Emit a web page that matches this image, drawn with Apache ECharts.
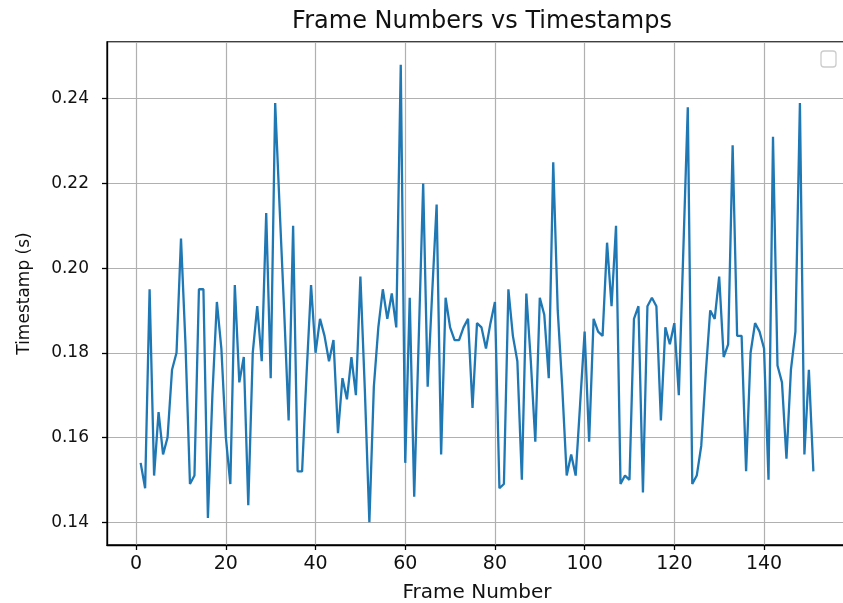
<!DOCTYPE html>
<html>
<head>
<meta charset="utf-8">
<title>Frame Numbers vs Timestamps</title>
<script src="https://cdn.jsdelivr.net/npm/echarts@6/dist/echarts.min.js"></script>
<style>
  html, body { margin: 0; padding: 0; background: #fff; }
  #chart { width: 843px; height: 603px; }
</style>
</head>
<body>
<div id="chart"></div>
<script>
// frame index 1..151 and measured timestamps (s)
const frameNumbers = [];
for (let i = 1; i <= 151; i++) frameNumbers.push(i);

const timestamps = [
  0.154, 0.148, 0.195, 0.151, 0.166, 0.156, 0.160, 0.176, 0.180, 0.207,
  0.182, 0.149, 0.151, 0.195, 0.195, 0.141, 0.170, 0.192, 0.181, 0.160,
  0.149, 0.196, 0.173, 0.179, 0.144, 0.180, 0.191, 0.178, 0.213, 0.174,
  0.239, 0.214, 0.190, 0.164, 0.210, 0.152, 0.152, 0.175, 0.196, 0.180,
  0.188, 0.184, 0.178, 0.183, 0.161, 0.174, 0.169, 0.179, 0.170, 0.198,
  0.171, 0.140, 0.172, 0.186, 0.195, 0.188, 0.194, 0.186, 0.248, 0.154,
  0.193, 0.146, 0.183, 0.220, 0.172, 0.194, 0.215, 0.156, 0.193, 0.186,
  0.183, 0.183, 0.186, 0.188, 0.167, 0.187, 0.186, 0.181, 0.187, 0.192,
  0.148, 0.149, 0.195, 0.184, 0.178, 0.150, 0.194, 0.178, 0.159, 0.193,
  0.189, 0.174, 0.225, 0.190, 0.172, 0.151, 0.156, 0.151, 0.168, 0.185,
  0.159, 0.188, 0.185, 0.184, 0.206, 0.191, 0.210, 0.149, 0.151, 0.150,
  0.188, 0.191, 0.147, 0.191, 0.193, 0.191, 0.164, 0.186, 0.182, 0.187,
  0.170, 0.204, 0.238, 0.149, 0.151, 0.158, 0.175, 0.190, 0.188, 0.198,
  0.179, 0.182, 0.229, 0.184, 0.184, 0.152, 0.180, 0.187, 0.185, 0.181,
  0.150, 0.231, 0.177, 0.173, 0.155, 0.176, 0.185, 0.239, 0.156, 0.176,
  0.152
];

const xRange = [-6.5, 158.5];
const yRange = [0.1346, 0.2534];
const xStep = 20;
const yStep = 0.02;

const font = "'DejaVu Sans', sans-serif";

const chart = echarts.init(document.getElementById('chart'));
chart.setOption({
  backgroundColor: '#fff',
  animation: false,
  title: {
    text: 'Frame Numbers vs Timestamps',
    left: 477,
    textAlign: 'center',
    top: 5,
    textStyle: { fontFamily: font, fontSize: 24, fontWeight: 'normal', color: '#111' }
  },
  grid: {
    left: 107, top: 42, right: -4, bottom: 58,
    outerBoundsMode: 'none',
    show: true, borderColor: '#000', borderWidth: 1.3, backgroundColor: 'transparent'
  },
  xAxis: {
    type: 'value',
    min: xRange[0], max: xRange[1],
    minInterval: xStep, maxInterval: xStep, splitNumber: 8,
    name: 'Frame Number',
    nameLocation: 'middle',
    nameGap: 38,
    nameTextStyle: { fontFamily: font, fontSize: 20, color: '#111' },
    axisLine: { show: true, onZero: false, lineStyle: { color: '#000', width: 1.3 } },
    axisTick: { show: true, length: 5, lineStyle: { color: '#000', width: 1.3 } },
    axisLabel: {
      showMinLabel: false, showMaxLabel: false,
      margin: 10, fontFamily: font, fontSize: 19, color: '#111'
    },
    splitLine: { show: true, lineStyle: { color: '#b0b0b0', width: 1.2 } }
  },
  yAxis: {
    type: 'value',
    min: yRange[0], max: yRange[1],
    minInterval: yStep, maxInterval: yStep, splitNumber: 6,
    name: 'Timestamp (s)',
    nameLocation: 'middle',
    nameRotate: 90,
    nameGap: 74,
    nameTextStyle: { fontFamily: font, fontSize: 17, color: '#111' },
    axisLine: { show: true, onZero: false, lineStyle: { color: '#000', width: 1.3 } },
    axisTick: { show: true, length: 5, lineStyle: { color: '#000', width: 1.3 } },
    axisLabel: {
      showMinLabel: false, showMaxLabel: false,
      margin: 18, fontFamily: font, fontSize: 17, color: '#111',
      formatter: v => v.toFixed(2)
    },
    splitLine: { show: true, lineStyle: { color: '#b0b0b0', width: 1.2 } }
  },
  graphic: [{
    type: 'rect',
    shape: { x: 821, y: 51, width: 15, height: 16, r: 3 },
    style: { fill: '#fff', stroke: '#cccccc', lineWidth: 1.3 }
  }],
  series: [{
    type: 'line',
    data: frameNumbers.map((f, i) => [f, timestamps[i]]),
    showSymbol: false,
    lineStyle: { color: '#1f77b4', width: 2.3 },
    itemStyle: { color: '#1f77b4' }
  }]
});
</script>
</body>
</html>
